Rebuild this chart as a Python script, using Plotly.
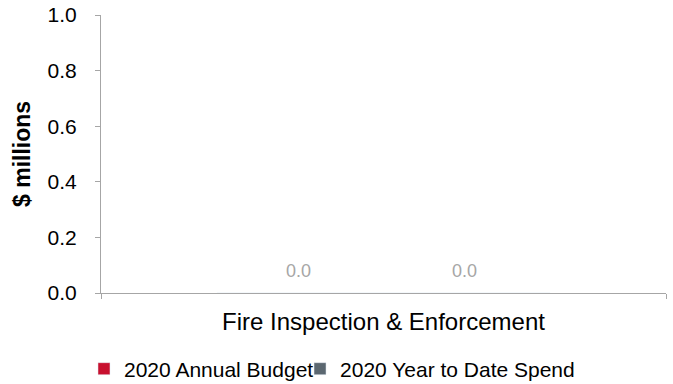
import plotly.graph_objects as go

categories = ["Fire Inspection & Enforcement"]
series_names = ["2020 Annual Budget", "2020 Year to Date Spend"]
budget = [0.0]
spend = [0.0]
y_ticks = [0.0, 0.2, 0.4, 0.6, 0.8, 1.0]

colors = ["#C8102E", "#5B6770"]
font = "Liberation Sans, Arial, sans-serif"

fig = go.Figure()
for name, vals, col, lg in zip(series_names, [budget, spend], colors, ["legend", "legend2"]):
    fig.add_trace(go.Bar(
        x=categories, y=vals, name=name, marker_color=col,
        textposition="none", legend=lg,
    ))

# value labels above bars
offsets = [-85, 81]
for vals, dx in zip([budget, spend], offsets):
    for c, v in zip(categories, vals):
        fig.add_annotation(x=c, y=v, xref="x", yref="y", text=f"{v:.1f}",
                           showarrow=False, xshift=dx, yshift=22,
                           font=dict(family=font, size=18, color="#A6A6A6"))

# y-axis title
fig.add_annotation(x=0, y=0.5, xref="paper", yref="paper", text="<b>$ millions</b>",
                   textangle=-90, showarrow=False, xanchor="center", yanchor="middle",
                   xshift=-79, font=dict(family=font, size=23, color="black"))

legend_common = dict(orientation="h", xanchor="left", xref="container", yref="container",
                     y=0.039, yanchor="middle",
                     font=dict(family=font, size=21, color="black"),
                     itemwidth=30, bgcolor="rgba(0,0,0,0)")

fig.update_layout(
    width=673, height=384,
    margin=dict(l=101, r=7, t=15, b=91),
    paper_bgcolor="white", plot_bgcolor="white",
    barmode="group", bargap=0.41, bargroupgap=0,
    font=dict(family=font, color="black"),
    showlegend=True,
    legend=dict(x=0.1248, **legend_common),
    legend2=dict(x=0.4458, **legend_common),
    xaxis=dict(showline=True, linecolor="#A6A6A6", linewidth=1,
               ticks="outside", tickson="boundaries", ticklen=5, tickcolor="#A6A6A6",
               tickfont=dict(family=font, size=24, color="black"),
               ticklabelstandoff=7,
               showgrid=False, zeroline=False, automargin=False),
    yaxis=dict(range=[0, 1.0], tickvals=y_ticks, ticktext=[f"{t:.1f}" for t in y_ticks],
               showline=True, linecolor="#A6A6A6", linewidth=1,
               ticks="outside", ticklen=5, tickcolor="#A6A6A6",
               tickfont=dict(family=font, size=21, color="black"),
               ticklabelstandoff=14,
               showgrid=False, zeroline=False, automargin=False),
)

fig.write_html("out.html", config={"displayModeBar": False},
               post_script="document.body.style.margin='0';")
